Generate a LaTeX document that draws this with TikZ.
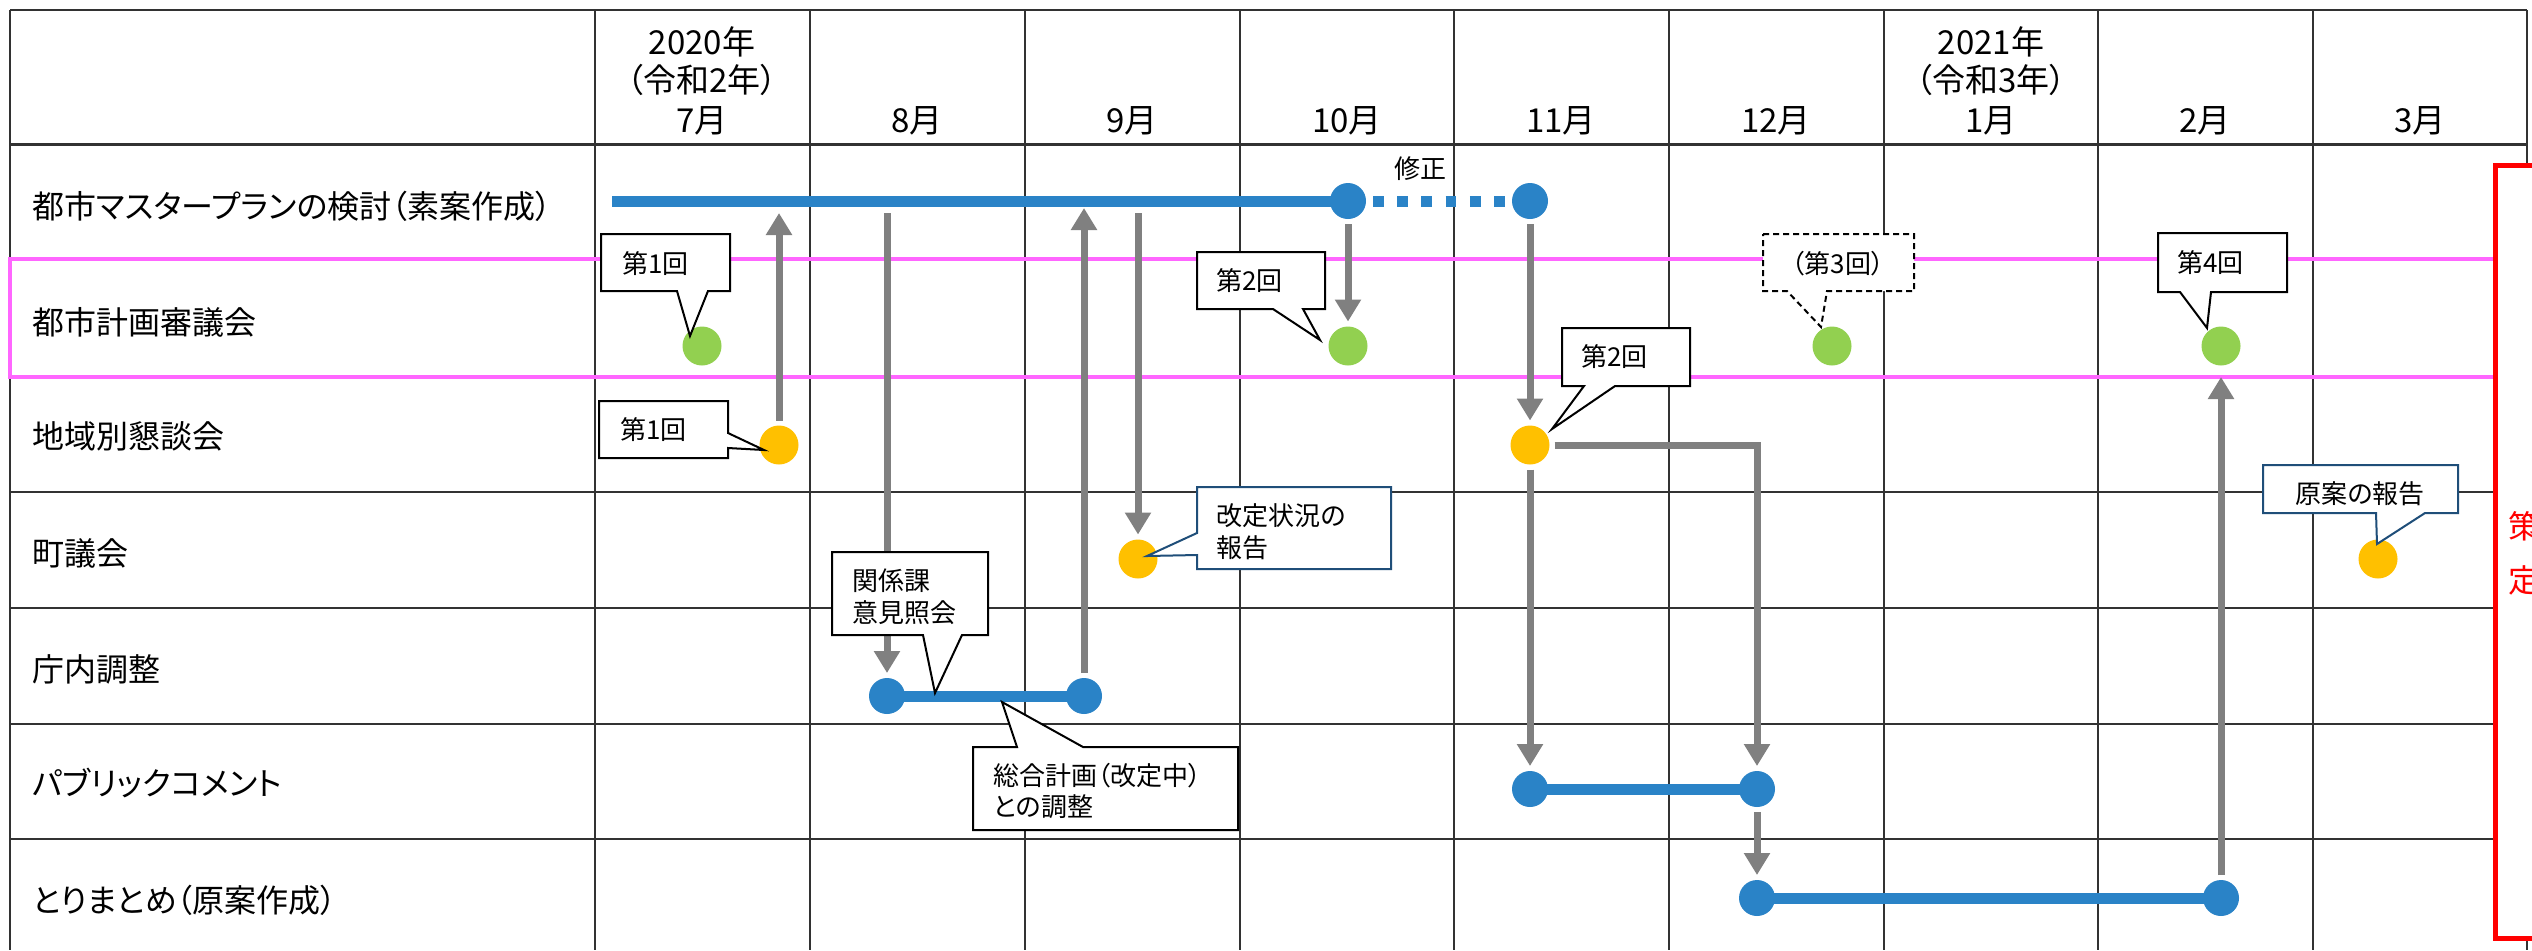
\documentclass[tikz,border=0pt]{standalone}
\usepackage{fontspec}
\setmainfont{Noto Sans CJK JP}[RawFeature=+palt]
\usetikzlibrary{arrows.meta,backgrounds}
\definecolor{mblue}{RGB}{42,131,199}
\definecolor{mgreen}{RGB}{146,208,80}
\definecolor{myellow}{RGB}{255,192,0}
\definecolor{mpink}{RGB}{255,102,255}
\definecolor{mred}{RGB}{255,0,0}
\definecolor{mgray}{RGB}{128,128,128}
\definecolor{mgrid}{RGB}{50,50,50}
\definecolor{mnavy}{RGB}{31,78,121}
\tikzset{
  gridline/.style={draw=mgrid, line width=1pt},
  rowlabel/.style={anchor=base west, inner sep=0pt, font=\fontsize{16pt}{19pt}\selectfont},
  headlabel/.style={anchor=base, inner sep=0pt, font=\fontsize{16.5pt}{19pt}\selectfont},
  ctext/.style={anchor=base west, inner sep=0pt, font=\fontsize{13pt}{15pt}\selectfont},
  redtext/.style={anchor=base west, inner sep=0pt, text=mred, font=\fontsize{16pt}{19pt}\selectfont},
  bdot/.style={circle, fill=mblue, minimum size=18pt, inner sep=0pt, outer sep=2.5pt},
  gdot/.style={circle, fill=mgreen, minimum size=19.5pt, inner sep=0pt, outer sep=2.5pt},
  ydot/.style={circle, fill=myellow, minimum size=19.5pt, inner sep=0pt, outer sep=2.5pt},
  bar/.style={draw=mblue, line width=5.5pt},
  dashbar/.style={draw=mblue, line width=5.5pt, dash pattern=on 5.35pt off 6.75pt, dash phase=11.7pt},
  garrow/.style={draw=mgray, line width=3.5pt, line join=miter, -{Triangle[width=12.5pt,length=11pt]}},
  cbox/.style={draw=black, fill=white, line width=1pt, line join=miter},
  dbox/.style={draw=black, fill=white, line width=1pt, dash pattern=on 3pt off 2pt},
  nbox/.style={draw=mnavy, fill=white, line width=1pt, line join=miter},
}
\begin{document}
\begin{tikzpicture}[x=0.5pt,y=-0.5pt]
\useasboundingbox (0,0) rectangle (2532,950);
\begin{scope}[on background layer]
  \fill[white] (0,0) rectangle (2532,950);
  \foreach \x in {10,595,810,1025,1240,1454,1669,1884,2098,2313,2527}
    \draw[gridline] (\x,10) -- (\x,950);
  \foreach \y in {10,259,377,492,608,724,839}
    \draw[gridline] (10,\y) -- (2527,\y);
  \draw[gridline, line width=1.5pt] (10,144) -- (2527,144);
  \draw[draw=mpink, line width=2.4pt] (10,259) rectangle (2495,377);
  \draw[draw=mred, fill=white, line width=2.5pt] (2495,165) rectangle (2600,938);
\end{scope}

% header
\node[headlabel] (h20a) at (702,54) {2020年};
\node[headlabel] (h20b) at (702,92) {（令和2年）};
\node[headlabel] (m7) at (702,132) {7月};
\node[headlabel] (m8) at (917,132) {8月};
\node[headlabel] (m9) at (1132,132) {9月};
\node[headlabel] (m10) at (1347,132) {10月};
\node[headlabel] (m11) at (1561,132) {11月};
\node[headlabel] (m12) at (1776,132) {12月};
\node[headlabel] (h21a) at (1991,54) {2021年};
\node[headlabel] (h21b) at (1991,92) {（令和3年）};
\node[headlabel] (m1) at (1991,132) {1月};
\node[headlabel] (m2) at (2205,132) {2月};
\node[headlabel] (m3) at (2420,132) {3月};

% row labels
\node[rowlabel] (r1) at (32,218) {都市マスタープランの検討（素案作成）};
\node[rowlabel] (r2) at (32,334) {都市計画審議会};
\node[rowlabel] (r3) at (32,448) {地域別懇談会};
\node[rowlabel] (r4) at (32,565) {町議会};
\node[rowlabel] (r5) at (32,681) {庁内調整};
\node[rowlabel] (r6) at (32,795) {パブリックコメント};
\node[rowlabel] (r7) at (32,912) {とりまとめ（原案作成）};

% red frame text (cut off at the right edge, as in the reference)
\node[redtext] (red1) at (2508,538) {策};
\node[redtext] (red2) at (2508,592) {定};

% dots
\coordinate (s0) at (612,201);
\node[bdot] (bA) at (1348,201) {};
\node[bdot] (bB) at (1530,201) {};
\node[bdot] (bC) at (887,696) {};
\node[bdot] (bD) at (1084,696) {};
\node[bdot] (bE) at (1530,789) {};
\node[bdot] (bF) at (1757,789) {};
\node[bdot] (bG) at (1757,898) {};
\node[bdot] (bH) at (2221,898) {};
\node[gdot] (g1) at (702,346) {};
\node[gdot] (g2) at (1348,346) {};
\node[gdot] (g3) at (1832,346) {};
\node[gdot] (g4) at (2221,346) {};
\node[ydot] (y1) at (779,445) {};
\node[ydot] (y2) at (1530,445) {};
\node[ydot] (y3) at (1138,559) {};
\node[ydot] (y4) at (2378,559) {};

% bars
\begin{scope}[on background layer]
  \draw[bar] (s0) -- (bA.center);
  \draw[dashbar] (bA.center) -- (bB.center);
  \draw[bar] (bC.center) -- (bD.center);
  \draw[bar] (bE.center) -- (bF.center);
  \draw[bar] (bG.center) -- (bH.center);
\end{scope}

\node[ctext, anchor=base] (fix) at (1420,178) {修正};

% arrows
\coordinate (t1) at (779,213);
\coordinate (f2) at (887,213);
\coordinate (t3) at (1084,208);
\coordinate (f4) at (1138,213);
\coordinate (t10) at (2221,377);
\draw[garrow] (y1) -- (t1);
\draw[garrow] (f2) -- (bC);
\draw[garrow] (bD) -- (t3);
\draw[garrow] (f4) -- (y3);
\draw[garrow] (bA) -- (g2);
\draw[garrow] (bB) -- (y2);
\draw[garrow] (y2) -- (bE);
\draw[garrow] (y2) -| (bF);
\draw[garrow] (bF) -- (bG);
\draw[garrow] (bH) -- (t10);

% callouts
\draw[cbox] (601,234) -- (730,234) -- (730,291) -- (708,291) -- (690,336) -- (677,291) -- (601,291) -- cycle;
\node[ctext] (ca) at (622,273) {第1回};
\draw[cbox] (1197,252) -- (1325,252) -- (1325,309) -- (1303,309) -- (1320,340) -- (1273,309) -- (1197,309) -- cycle;
\node[ctext] (cb) at (1216,290) {第2回};
\draw[dbox] (1763,234) -- (1914,234) -- (1914,291) -- (1827,291) -- (1821,327) -- (1787,291) -- (1763,291) -- cycle;
\node[ctext, anchor=base] (cc) at (1838,273) {（第3回）};
\draw[cbox] (2158,233) -- (2287,233) -- (2287,292) -- (2211,292) -- (2207,328) -- (2180,292) -- (2158,292) -- cycle;
\node[ctext] (cd) at (2177,272) {第4回};
\draw[cbox] (599,401) -- (728,401) -- (728,433) -- (764,450) -- (728,448) -- (728,458) -- (599,458) -- cycle;
\node[ctext] (ce) at (620,439) {第1回};
\draw[cbox] (1562,328) -- (1690,328) -- (1690,386) -- (1615,386) -- (1552,429) -- (1584,386) -- (1562,386) -- cycle;
\node[ctext] (cf) at (1581,366) {第2回};
\draw[nbox] (1197,487) -- (1391,487) -- (1391,569) -- (1197,569) -- (1197,555) -- (1147,556) -- (1197,533) -- cycle;
\node[ctext] (cg1) at (1216,525) {改定状況の};
\node[ctext] (cg2) at (1216,557) {報告};
\draw[nbox] (2263,465) -- (2458,465) -- (2458,513) -- (2425,513) -- (2377,544) -- (2376,513) -- (2263,513) -- cycle;
\node[ctext] (ch) at (2295,503) {原案の報告};
\draw[cbox] (832,552) -- (988,552) -- (988,635) -- (962,635) -- (935,693) -- (923,635) -- (832,635) -- cycle;
\node[ctext] (ci1) at (852,590) {関係課};
\node[ctext] (ci2) at (852,622) {意見照会};
\draw[cbox] (973,747) -- (1017,747) -- (1002,702) -- (1083,747) -- (1238,747) -- (1238,830) -- (973,830) -- cycle;
\node[ctext] (cj1) at (993,785) {総合計画（改定中）};
\node[ctext] (cj2) at (993,816) {との調整};
\end{tikzpicture}
\end{document}
